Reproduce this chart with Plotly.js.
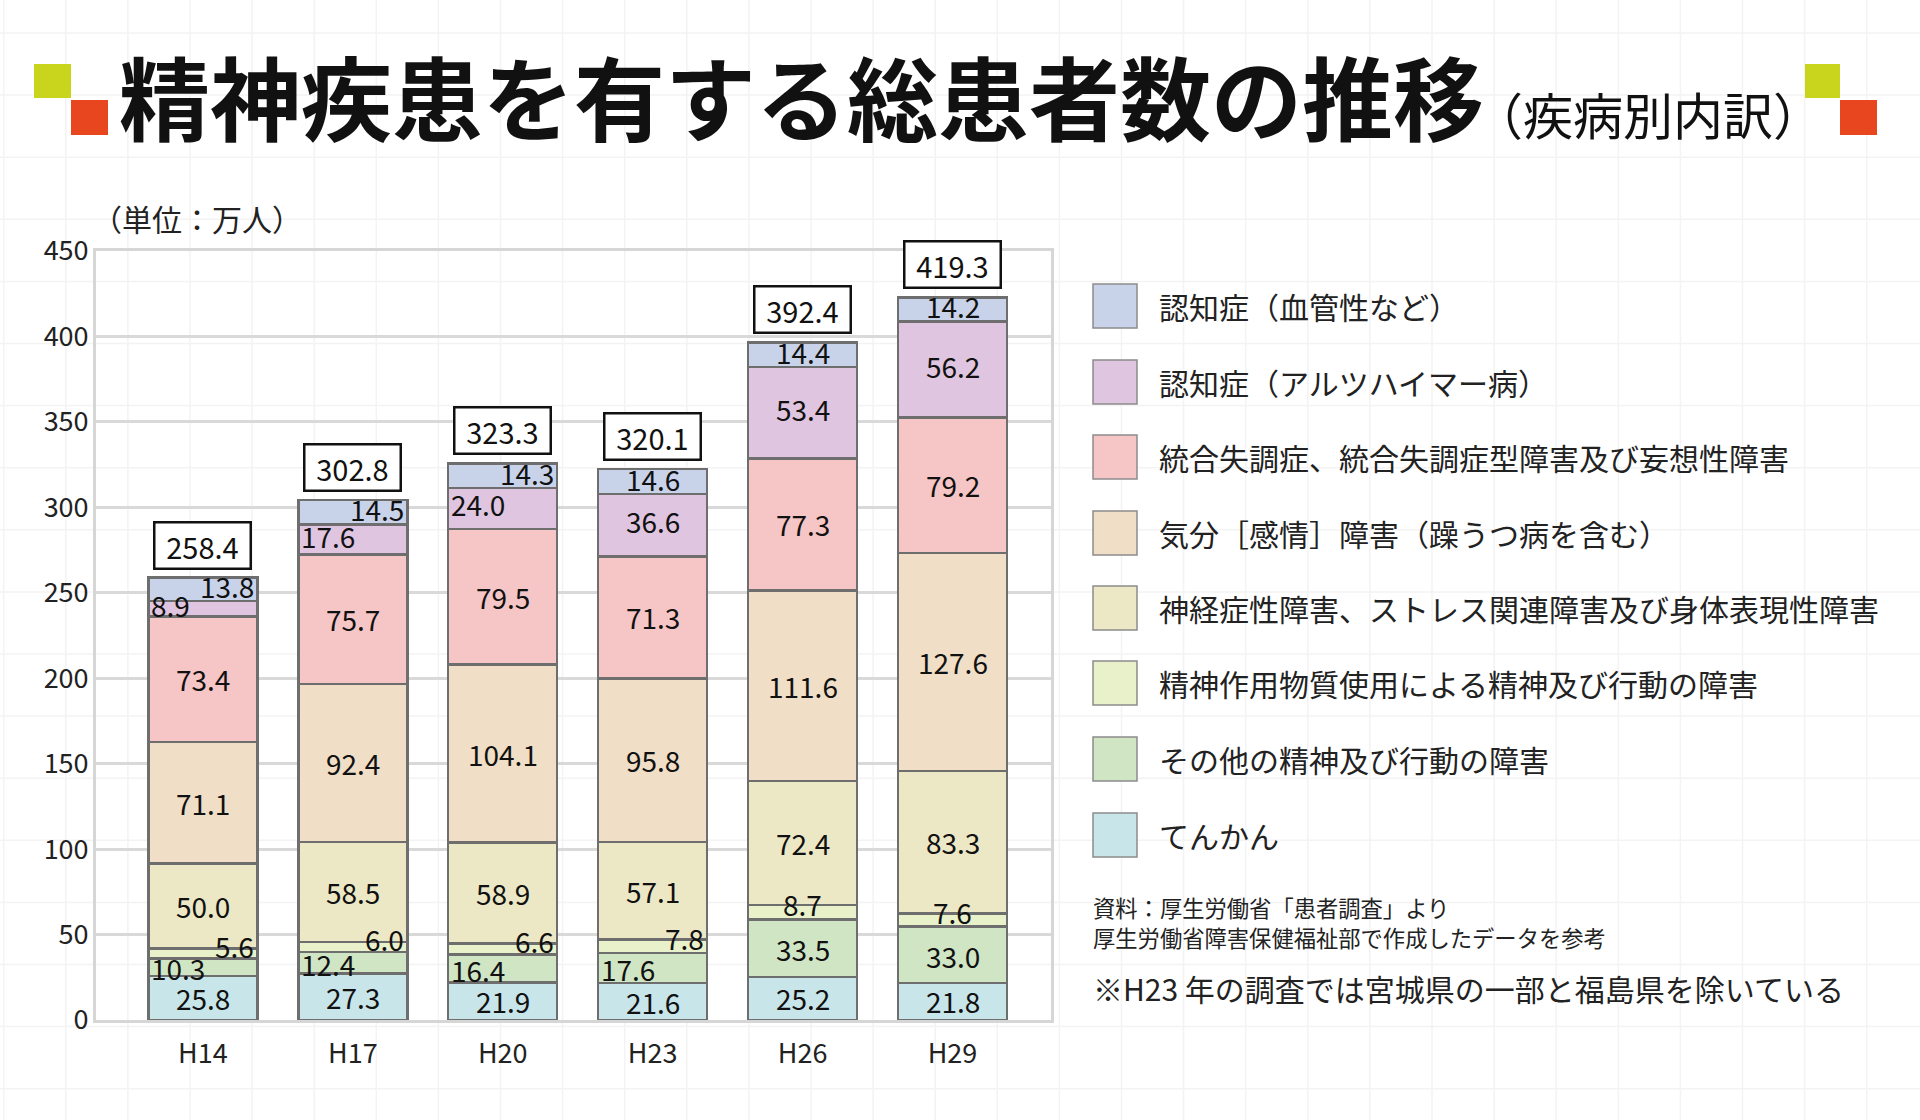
<!DOCTYPE html>
<html><head><meta charset="utf-8">
<script src="https://cdn.plot.ly/plotly-3.0.1.min.js"></script>
<style>html,body{margin:0;padding:0;background:#fff;} #chart{width:1920px;height:1120px;}</style>
</head><body><div id="chart"></div>
<script>
// ---- data ----
const categories = ['H14', 'H17', 'H20', 'H23', 'H26', 'H29'];
// stack order: bottom -> top
const seriesNames = [
  'てんかん',
  'その他の精神及び行動の障害',
  '精神作用物質使用による精神及び行動の障害',
  '神経症性障害、ストレス関連障害及び身体表現性障害',
  '気分［感情］障害（躁うつ病を含む）',
  '統合失調症、統合失調症型障害及び妄想性障害',
  '認知症（アルツハイマー病）',
  '認知症（血管性など）'
];
const epilepsy       = [25.8, 27.3, 21.9, 21.6, 25.2, 21.8];
const otherDisorders = [10.3, 12.4, 16.4, 17.6, 33.5, 33.0];
const substanceUse   = [5.6, 6.0, 6.6, 7.8, 8.7, 7.6];
const neurotic       = [50.0, 58.5, 58.9, 57.1, 72.4, 83.3];
const moodDisorders  = [71.1, 92.4, 104.1, 95.8, 111.6, 127.6];
const schizophrenia  = [73.4, 75.7, 79.5, 71.3, 77.3, 79.2];
const alzheimer      = [8.9, 17.6, 24.0, 36.6, 53.4, 56.2];
const vascularDementia = [13.8, 14.5, 14.3, 14.6, 14.4, 14.2];
const totals = [258.4, 302.8, 323.3, 320.1, 392.4, 419.3];
const yTickValues = [0, 50, 100, 150, 200, 250, 300, 350, 400, 450];

const seriesValues = [epilepsy, otherDisorders, substanceUse, neurotic, moodDisorders, schizophrenia, alzheimer, vascularDementia];

// ---- styles ----
const colors = ['#c8e5ea', '#cfe5c4', '#e8f1c9', '#ece8c5', '#f0dec6', '#f6c6c7', '#dfc5df', '#c8d3ea'];
const FONT = '"Noto Sans CJK JP", "Noto Sans", sans-serif';
// label alignment per series/category (style only)
const labelAlign = {
  1: ['left', 'left', 'left', 'left', 'center', 'center'],
  2: ['right', 'right', 'right', 'right', 'center', 'center'],
  6: ['left', 'left', 'left', 'center', 'center', 'center'],
  7: ['right', 'right', 'right', 'center', 'center', 'center']
};
const labelShift = {1: -1, 2: 8, 6: 4, 7: 3};

const L = 96, R = 869, T = 251, B = 100;
const W = 1920 - L - R, H = 1120 - T - B;
const px = x => (x - L) / W;
const py = y => (T + H - y) / H;
const barWidth = 0.727;
const barPx = barWidth * 150;

const traces = seriesValues.map((vals, i) => ({
  type: 'bar',
  name: seriesNames[i],
  x: categories,
  y: vals,
  width: barWidth,
  marker: {color: colors[i], line: {color: '#6e6e6e', width: 2.5}},
  showlegend: false,
  hoverinfo: 'x+y+name'
}));

const annotations = [];
const shapes = [];

// faint background grid (decoration)
for (let gx = 3.7; gx < 1920; gx += 62.1) {
  shapes.push({type: 'line', xref: 'paper', yref: 'paper', x0: px(gx), x1: px(gx), y0: py(0), y1: py(1120),
    line: {color: '#f3f3f3', width: 1.5}, layer: 'below'});
}
for (let gy = 33; gy < 1120; gy += 62.1) {
  shapes.push({type: 'line', xref: 'paper', yref: 'paper', x0: px(0), x1: px(1920), y0: py(gy), y1: py(gy),
    line: {color: '#f3f3f3', width: 1.5}, layer: 'below'});
}

// segment labels
const base = categories.map(() => 0);
seriesValues.forEach((vals, i) => {
  vals.forEach((v, j) => {
    const align = (labelAlign[i] && labelAlign[i][j]) || 'center';
    let xshift = 0;
    if (align === 'left') xshift = -barPx / 2 + 1;
    if (align === 'right') xshift = barPx / 2 - 1;
    annotations.push({
      x: categories[j], y: base[j] + v / 2, xref: 'x', yref: 'y',
      text: v.toFixed(1), showarrow: false,
      xanchor: align, yanchor: 'middle', xshift: xshift, yshift: labelShift[i] || 0,
      font: {family: FONT, size: 28, color: '#111'}
    });
    base[j] += v;
  });
});

// total boxes
totals.forEach((t, j) => {
  annotations.push({
    x: categories[j], y: base[j], xref: 'x', yref: 'y',
    text: t.toFixed(1), showarrow: false,
    xanchor: 'center', yanchor: 'bottom', yshift: 8,
    width: 90, height: 40, borderpad: 2,
    bordercolor: '#111', borderwidth: 2.5, bgcolor: '#fff',
    font: {family: FONT, size: 29, color: '#111'}
  });
});

// title
annotations.push({
  xref: 'paper', yref: 'paper', x: px(117), y: py(94), xanchor: 'left', yanchor: 'middle',
  text: '<b>精神疾患を有する総患者数の推移</b>', showarrow: false,
  font: {family: FONT, size: 91, color: '#111'}
});
annotations.push({
  xref: 'paper', yref: 'paper', x: px(1825), y: py(113), xanchor: 'right', yanchor: 'middle',
  text: '（疾病別内訳）', showarrow: false,
  font: {family: FONT, size: 50, color: '#111'}
});
// unit label
annotations.push({
  xref: 'paper', yref: 'paper', x: px(90), y: py(218), xanchor: 'left', yanchor: 'middle',
  text: '（単位：万人）', showarrow: false,
  font: {family: FONT, size: 30, color: '#222'}
});

// decorative squares
const deco = [
  [34, 64, 71, 98, '#c8d51c'], [71, 100, 108, 135, '#e8461e'],
  [1805, 64, 1840, 98, '#c8d51c'], [1840, 100, 1877, 135, '#e8461e']
];
deco.forEach(d => shapes.push({
  type: 'rect', xref: 'paper', yref: 'paper', x0: px(d[0]), x1: px(d[2]), y0: py(d[3]), y1: py(d[1]),
  fillcolor: d[4], line: {width: 0}, layer: 'above'
}));

// custom legend (top = last series)
const legendY = [306, 382, 457, 533, 608, 683, 759, 835];
for (let k = 0; k < seriesNames.length; k++) {
  const i = seriesNames.length - 1 - k;
  const cy = legendY[k];
  shapes.push({
    type: 'rect', xref: 'paper', yref: 'paper', x0: px(1093), x1: px(1137), y0: py(cy + 22), y1: py(cy - 22),
    fillcolor: colors[i], line: {color: '#8c8c8c', width: 1.5}, layer: 'above'
  });
  annotations.push({
    xref: 'paper', yref: 'paper', x: px(1157), y: py(cy), xanchor: 'left', yanchor: 'middle',
    text: seriesNames[i], showarrow: false,
    font: {family: FONT, size: 30, color: '#222'}
  });
}

// source notes
annotations.push({
  xref: 'paper', yref: 'paper', x: px(1091), y: py(907), xanchor: 'left', yanchor: 'middle',
  text: '資料：厚生労働省「患者調査」より', showarrow: false,
  font: {family: FONT, size: 22.3, color: '#222'}
});
annotations.push({
  xref: 'paper', yref: 'paper', x: px(1091), y: py(937), xanchor: 'left', yanchor: 'middle',
  text: '厚生労働省障害保健福祉部で作成したデータを参考', showarrow: false,
  font: {family: FONT, size: 22.3, color: '#222'}
});
annotations.push({
  xref: 'paper', yref: 'paper', x: px(1091), y: py(988), xanchor: 'left', yanchor: 'middle',
  text: '※H23 年の調査では宮城県の一部と福島県を除いている', showarrow: false,
  font: {family: FONT, size: 30, color: '#222'}
});

const layout = {
  width: 1920, height: 1120,
  margin: {l: L, r: R, t: T, b: B, pad: 0},
  paper_bgcolor: '#ffffff', plot_bgcolor: 'rgba(0,0,0,0)',
  barmode: 'stack',
  font: {family: FONT, color: '#222'},
  xaxis: {
    type: 'category', range: [-0.713, 5.657],
    showgrid: false, zeroline: false,
    showline: true, mirror: true, linecolor: '#d6d6d6', linewidth: 3,
    ticks: '', tickfont: {family: FONT, size: 27, color: '#222'},
    ticklabelstandoff: 8, fixedrange: true
  },
  yaxis: {
    range: [0, 450], tickvals: yTickValues, ticktext: yTickValues.map(String),
    showgrid: true, gridcolor: '#d9d9d9', gridwidth: 3,
    zeroline: false, showline: true, mirror: true, linecolor: '#d6d6d6', linewidth: 3,
    ticks: '', tickfont: {family: FONT, size: 27, color: '#222'},
    ticklabelstandoff: -1, fixedrange: true
  },
  annotations: annotations,
  shapes: shapes,
  showlegend: false
};

Plotly.newPlot('chart', traces, layout, {displayModeBar: false, staticPlot: true});
</script>
</body></html>
